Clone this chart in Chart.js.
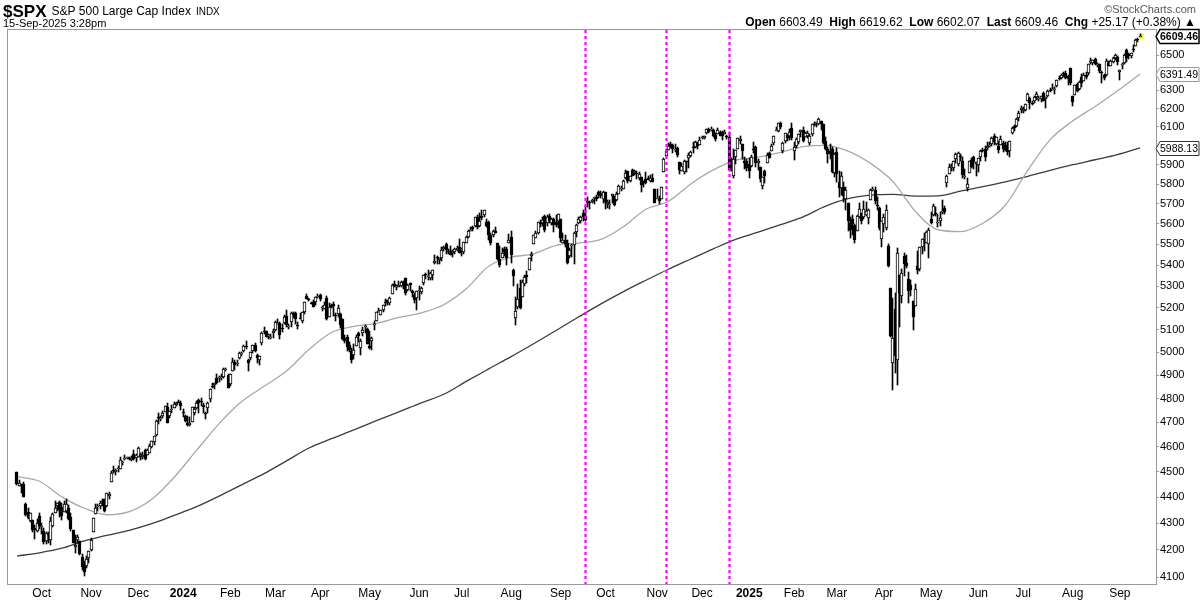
<!DOCTYPE html>
<html><head><meta charset="utf-8">
<script src="https://cdn.jsdelivr.net/npm/chart.js@4.4.1/dist/chart.umd.min.js"></script>
<style>html,body{margin:0;padding:0;background:#fff;overflow:hidden}canvas{display:block}</style>
</head><body>
<canvas id="c" width="1200" height="600"></canvas>
<script>
// ---- Daily OHLC, Sep 15 2023 .. Sep 15 2025 (index 0 = Sep 15 2023) ----
const opens = [
// Sep 2023
4497,4445,4446,4453,4374,4342,4310,4312,4282,4270,4329,
// Oct
4284,4270,4234,4260,4235,4290,4339,4366,4380,4360,4342,4345,4358,4322,4274,4210,4236,4232,4175,4152,4140,4171,
// Nov
4201,4268,4334,4364,4366,4384,4392,4365,4406,4458,4505,4497,4509,4511,4538,4553,4555,4555,4546,4572,4555,
// Dec
4560,4564,4557,4587,4568,4576,4601,4618,4647,4721,4714,4725,4743,4764,4725,4754,4759,4773,4786,4782,
// Jan 2024
4745,4726,4698,4690,4703,4741,4759,4792,4791,4772,4740,4760,4797,4853,4856,4888,4886,4888,4892,4925,4900,
// Feb
4862,4917,4957,4951,4973,4996,5005,5026,4967,4976,5004,5031,4989,4964,5039,5094,5093,5074,5068,5085,
// Mar
5098,5131,5130,5109,5132,5164,5112,5134,5174,5176,5124,5154,5139,5181,5254,5243,5220,5229,5226,5248,
// Apr
5258,5204,5195,5245,5158,5212,5218,5167,5173,5171,5150,5064,5068,5032,5005,4988,5029,5084,5020,5085,5115,5104,
// May
5029,5050,5123,5142,5187,5168,5189,5225,5234,5221,5264,5310,5303,5298,5299,5319,5340,5282,5315,5278,5260,5244,
// Jun
5283,5275,5314,5357,5344,5341,5354,5410,5441,5424,5432,5477,5499,5467,5460,5460,5461,5473,5488,
// Jul
5471,5461,5507,5537,5572,5585,5591,5635,5590,5638,5644,5610,5608,5544,5544,5566,5505,5429,5434,5477,5478,5505,
// Aug
5537,5377,5152,5206,5293,5252,5312,5351,5376,5443,5500,5531,5557,5602,5604,5637,5602,5640,5602,5624,5607,5612,
// Sep
5624,5507,5520,5507,5443,5491,5496,5558,5603,5615,5655,5641,5702,5709,5711,5727,5733,5762,5755,5726,
// Oct
5758,5698,5698,5737,5737,5720,5752,5777,5775,5830,5866,5816,5875,5859,5857,5833,5835,5814,5826,5830,5814,5833,5776,
// Nov
5723,5725,5722,5864,5947,5977,6008,6003,5985,5990,5912,5869,5860,5918,5935,5945,5992,5992,6015,6004,
// Dec
6040,6042,6069,6089,6082,6083,6057,6060,6075,6064,6063,6052,6048,5913,5843,5941,5984,6025,6007,5920,5920,
// Jan 2025
5904,5891,5982,5993,5910,5890,5788,5865,5907,5963,5973,6015,6081,6076,6121,5970,6026,6057,6054,6096,
// Feb
5970,5998,6020,6072,6083,6047,6049,6012,6060,6116,6121,6117,6134,6114,6026,5983,5971,5981,5857,
// Mar
5968,5811,5781,5786,5726,5705,5603,5624,5594,5563,5635,5654,5632,5646,5630,5718,5775,5772,5696,5679,5527,
// Apr
5597,5580,5492,5292,4953,5194,4966,5353,5255,5442,5411,5335,5305,5232,5208,5395,5381,5489,5529,5508,5499,
// May
5625,5645,5656,5605,5613,5663,5679,5808,5854,5884,5883,5929,5903,5945,5921,5841,5781,5855,5926,5940,5903,
// Jun
5897,5938,5979,5985,5987,6005,6009,6050,6010,5997,6005,6012,5985,6004,5970,6069,6104,6107,6151,6193,
// Jul
6187,6193,6244,6260,6233,6244,6264,6255,6255,6288,6251,6269,6305,6304,6307,6326,6368,6370,6397,6398,6378,6428,
// Aug
6270,6272,6335,6309,6374,6352,6389,6398,6461,6452,6478,6446,6447,6404,6387,6384,6457,6440,6458,6485,6491,
// Sep
6401,6448,6457,6529,6503,6497,6536,6552,6590,6603.49
];
const highs = [
4497,4467,4452,4461,4376,4357,4338,4313,4292,4317,4337,
4300,4282,4268,4268,4324,4337,4385,4378,4386,4377,4383,4393,4368,4339,4276,4256,4255,4233,4183,4157,4178,4195,
4245,4320,4374,4372,4386,4392,4393,4416,4421,4503,4521,4511,4521,4557,4542,4568,4560,4560,4562,4588,4570,
4599,4574,4578,4590,4590,4610,4623,4644,4710,4739,4726,4749,4769,4779,4749,4773,4784,4785,4793,4789,
4755,4730,4727,4721,4764,4766,4791,4798,4803,4782,4744,4785,4842,4868,4866,4903,4898,4906,4929,4932,4907,
4907,4975,4964,4964,5000,5000,5031,5048,4970,5003,5033,5039,4994,4984,5089,5111,5097,5082,5081,5105,
5140,5149,5134,5127,5165,5190,5125,5180,5180,5180,5137,5175,5180,5226,5262,5246,5229,5235,5249,5264,
5263,5208,5228,5256,5222,5219,5225,5178,5212,5176,5151,5079,5077,5046,5019,5038,5076,5089,5058,5114,5123,5110,
5096,5070,5139,5181,5200,5192,5215,5239,5238,5250,5311,5325,5305,5325,5324,5324,5341,5311,5316,5282,5270,5280,
5303,5297,5354,5362,5375,5365,5375,5447,5442,5432,5488,5490,5505,5478,5490,5473,5484,5490,5524,
5480,5510,5539,5570,5583,5590,5635,5642,5655,5670,5667,5622,5614,5557,5570,5586,5508,5492,5480,5487,5489,5551,
5566,5383,5250,5312,5330,5328,5351,5371,5436,5463,5546,5564,5608,5620,5632,5643,5642,5651,5631,5628,5646,5651,
5626,5553,5546,5522,5484,5502,5560,5600,5636,5637,5670,5690,5733,5716,5725,5735,5742,5767,5765,5765,
5758,5720,5718,5752,5739,5758,5797,5790,5822,5871,5870,5843,5878,5872,5866,5863,5838,5817,5862,5843,5848,5851,5776,
5773,5741,5784,5936,5983,6013,6018,6010,6008,5993,5915,5909,5923,5920,5963,5974,6020,6026,6021,6045,
6053,6052,6089,6093,6099,6089,6065,6092,6080,6079,6086,6057,6071,5936,5982,5979,6040,6049,6008,5941,5929,
5935,5949,6022,6000,5928,5890,5837,5871,5960,5965,6009,6051,6100,6119,6128,6018,6070,6062,6087,6120,
6022,6042,6062,6084,6101,6073,6076,6063,6116,6127,6129,6147,6134,6115,6044,5992,6009,5994,5959,
5986,5865,5860,5812,5783,5706,5636,5642,5598,5645,5703,5654,5715,5711,5672,5775,5786,5783,5732,5685,5615,
5651,5695,5500,5293,5247,5268,5481,5353,5381,5460,5450,5367,5329,5233,5310,5469,5489,5528,5554,5565,5581,
5659,5700,5683,5649,5659,5721,5691,5845,5906,5906,5917,5959,5968,5954,5938,5879,5830,5922,5935,5944,5915,
5937,5978,5990,5999,6017,6022,6044,6060,6045,6026,6051,6024,6018,6018,6025,6101,6108,6146,6187,6215,
6211,6227,6285,6263,6243,6269,6290,6267,6271,6293,6266,6302,6316,6336,6317,6360,6381,6390,6401,6410,6389,6428,
6271,6330,6341,6350,6390,6396,6402,6446,6481,6474,6481,6457,6448,6407,6394,6477,6467,6471,6486,6508,6493,
6417,6453,6503,6533,6509,6513,6555,6592,6600,6619.62
];
const lows = [
4448,4442,4416,4402,4329,4316,4303,4265,4239,4265,4278,
4260,4220,4220,4225,4219,4284,4339,4346,4325,4311,4342,4338,4311,4270,4224,4190,4224,4181,4127,4104,4132,4153,
4197,4268,4334,4347,4355,4364,4344,4360,4394,4458,4495,4488,4500,4511,4526,4545,4552,4546,4541,4546,4538,
4557,4547,4551,4546,4566,4574,4594,4607,4644,4694,4705,4720,4743,4698,4717,4739,4758,4769,4780,4751,
4722,4700,4687,4683,4700,4730,4757,4740,4769,4740,4715,4740,4785,4844,4842,4860,4870,4881,4887,4917,4845,
4853,4917,4921,4941,4970,4985,4999,5016,4920,4966,4998,4999,4955,4946,5034,5081,5068,5057,5058,5062,
5094,5127,5057,5091,5128,5114,5104,5112,5153,5126,5104,5148,5132,5171,5241,5230,5216,5203,5213,5246,
5230,5185,5194,5146,5157,5197,5161,5138,5156,5107,5054,5039,5007,4999,4954,4969,5027,5047,4990,5073,5088,5035,
5013,5008,5101,5142,5181,5166,5180,5207,5212,5212,5263,5297,5283,5298,5297,5286,5257,5278,5280,5250,5222,5192,
5234,5265,5306,5335,5331,5331,5327,5404,5404,5403,5420,5469,5455,5452,5447,5440,5451,5469,5458,
5445,5452,5507,5531,5563,5565,5587,5576,5583,5620,5632,5584,5522,5497,5537,5553,5426,5390,5433,5445,5401,5505,
5410,5302,5120,5194,5195,5249,5301,5317,5376,5420,5500,5530,5550,5585,5591,5561,5590,5602,5593,5561,5585,5582,
5509,5505,5485,5403,5434,5441,5406,5535,5601,5605,5615,5615,5686,5674,5704,5697,5714,5730,5730,5704,
5675,5680,5675,5703,5690,5715,5752,5763,5775,5824,5806,5810,5840,5849,5825,5822,5762,5784,5800,5822,5810,5811,5703,
5723,5697,5722,5864,5947,5976,5986,5960,5965,5943,5854,5865,5854,5860,5885,5943,5963,5986,5985,6003,
6035,6034,6062,6069,6079,6045,6023,6060,6050,6032,6060,6035,5867,5866,5832,5903,5983,6007,5932,5879,5869,
5829,5889,5960,5890,5874,5809,5773,5804,5907,5936,5972,6006,6076,6075,6089,5962,6012,6024,6028,6030,
5923,5990,6007,6046,6020,6044,6042,6003,6051,6107,6100,6111,6084,6009,5977,5908,5932,5858,5837,
5810,5733,5742,5711,5667,5565,5529,5547,5505,5563,5631,5597,5622,5640,5598,5718,5764,5700,5670,5572,5489,
5558,5572,5391,5069,4835,4910,4857,5115,5220,5349,5387,5220,5255,5101,5208,5356,5371,5455,5468,5505,5434,
5597,5637,5640,5585,5589,5651,5650,5787,5854,5869,5865,5909,5896,5919,5830,5825,5767,5855,5884,5876,5843,
5861,5921,5967,5921,5978,5994,6000,6006,6004,5963,6005,5968,5971,5953,5943,6061,6078,6101,6133,6175,
6178,6188,6244,6200,6217,6233,6249,6242,6238,6243,6201,6264,6289,6303,6282,6317,6360,6365,6376,6361,6332,6330,
6212,6272,6289,6301,6321,6352,6362,6385,6449,6441,6444,6434,6399,6343,6357,6380,6438,6436,6452,6471,6444,
6360,6419,6447,6460,6478,6482,6516,6552,6577,6602.07
];
const closes = [
4450,4454,4444,4402,4330,4320,4337,4274,4275,4300,4288,
4288,4229,4263,4258,4308,4336,4358,4377,4349,4328,4373,4373,4314,4278,4224,4217,4248,4186,4137,4117,4167,4194,
4237,4318,4358,4365,4378,4383,4347,4415,4411,4496,4502,4508,4514,4547,4538,4556,4559,4550,4554,4551,4568,
4595,4569,4567,4549,4585,4604,4622,4644,4707,4719,4719,4741,4768,4698,4746,4755,4775,4782,4783,4770,
4743,4705,4689,4697,4764,4757,4783,4780,4784,4766,4739,4781,4840,4851,4865,4868,4894,4891,4928,4925,4846,
4906,4959,4943,4954,4995,4998,5027,5022,4953,5001,5030,5006,4976,4982,5087,5089,5070,5078,5070,5096,
5137,5131,5079,5105,5157,5124,5118,5175,5165,5150,5117,5149,5179,5225,5241,5234,5218,5204,5248,5254,
5243,5205,5211,5147,5204,5202,5209,5161,5199,5123,5061,5051,5022,5011,4967,5010,5070,5072,5048,5100,5116,5036,
5018,5064,5128,5181,5187,5188,5214,5223,5221,5247,5308,5297,5303,5308,5321,5307,5268,5305,5306,5267,5236,5278,
5283,5291,5354,5352,5347,5361,5375,5421,5433,5432,5473,5487,5473,5465,5448,5469,5478,5483,5460,
5475,5509,5537,5567,5572,5577,5633,5585,5615,5631,5667,5588,5544,5505,5564,5555,5427,5399,5459,5464,5436,5522,
5446,5346,5186,5240,5199,5319,5344,5344,5435,5455,5543,5554,5608,5597,5620,5571,5635,5616,5625,5592,5592,5648,
5529,5520,5503,5408,5471,5496,5554,5596,5626,5634,5634,5618,5714,5703,5719,5732,5722,5745,5738,5762,
5709,5710,5700,5751,5696,5751,5792,5780,5815,5859,5815,5843,5841,5865,5853,5851,5797,5809,5808,5823,5832,5813,5705,
5729,5712,5783,5929,5973,5996,6001,5984,5985,5949,5871,5894,5917,5917,5949,5969,5987,6021,5999,6032,
6047,6050,6087,6075,6090,6053,6034,6085,6051,6051,6074,6050,5872,5867,5931,5975,6040,6038,5971,5907,5882,
5869,5942,5975,5909,5918,5827,5836,5843,5950,5937,5997,6049,6086,6119,6101,6012,6068,6039,6071,6041,
5994,6038,6061,6084,6026,6066,6068,6052,6115,6115,6129,6144,6117,6013,5983,5955,5956,5861,5955,
5850,5778,5843,5739,5770,5615,5572,5599,5522,5639,5675,5615,5675,5663,5668,5768,5777,5712,5693,5581,5612,
5633,5671,5397,5074,5062,4982,5457,5268,5363,5406,5396,5276,5283,5158,5288,5376,5485,5525,5529,5561,5569,
5604,5687,5650,5607,5631,5664,5660,5844,5886,5892,5917,5958,5964,5940,5845,5842,5803,5922,5889,5912,5912,
5936,5970,5971,5939,6000,6006,6039,6022,6045,5977,6033,5982,5981,5967,6025,6092,6092,6141,6173,6205,
6198,6227,6279,6230,6226,6263,6280,6260,6269,6244,6264,6297,6297,6306,6309,6359,6363,6389,6390,6371,6362,6339,
6238,6330,6299,6345,6340,6389,6374,6446,6466,6469,6450,6449,6411,6396,6370,6467,6439,6466,6481,6502,6460,
6416,6448,6502,6482,6495,6512,6532,6587,6584,6609.46
];

// ---- Moving averages (every 10th trading day) ----
const maDays = [0,10,20,30,40,50,60,70,80,90,100,110,120,130,140,150,160,170,180,190,200,210,220,230,240,250,260,270,280,290,300,310,320,330,340,350,360,370,380,390,400,410,420,430,440,450,460,470,480,490,500];
const ma50 = [4480,4462,4401,4357,4332,4344,4392,4478,4586,4695,4787,4852,4918,5012,5088,5116,5129,5156,5177,5214,5288,5394,5437,5454,5495,5506,5524,5586,5673,5712,5801,5873,5924,5940,5965,5995,6002,5971,5907,5813,5662,5571,5562,5603,5693,5871,6032,6132,6211,6298,6391.49];
const ma200 = [4177,4189,4206,4233,4254,4273,4298,4330,4363,4404,4448,4492,4543,4595,4633,4669,4707,4744,4782,4818,4873,4927,4981,5038,5097,5158,5218,5275,5328,5380,5429,5478,5524,5559,5596,5635,5688,5726,5744,5748,5739,5740,5764,5787,5812,5840,5871,5900,5926,5953,5988.13];

// ---- Axis ticks / markers ----
const monthStarts = [11,33,54,74,95,115,135,157,179,198,220,242,262,285,305,326,346,365,386,407,428,448,470,491];
const monthLabels = ['Oct','Nov','Dec','2024','Feb','Mar','Apr','May','Jun','Jul','Aug','Sep','Oct','Nov','Dec','2025','Feb','Mar','Apr','May','Jun','Jul','Aug','Sep'];
const priceTicks = [4100,4200,4300,4400,4500,4600,4700,4800,4900,5000,5100,5200,5300,5400,5500,5600,5700,5800,5900,6100,6200,6300,6500];
const fedDays = [253,289,317];

// ---- Header text ----
const symbol = '$SPX';
const titleText = 'S&P 500 Large Cap Index';
const exchText = 'INDX';
const stampText = '15-Sep-2025 3:28pm';
const creditText = '\u00A9StockCharts.com';
const quoteLabels = ['Open','High','Low','Last','Chg'];
const quoteValues = ['6603.49','6619.62','6602.07','6609.46','+25.17 (+0.38%)'];

const FONT = '"Liberation Sans", Arial, sans-serif';
const NARROW = '"Liberation Sans Narrow", "Arial Narrow", "Liberation Sans", sans-serif';

const n = closes.length, last = n - 1;
const lenOK = opens.length === n && highs.length === n && lows.length === n && ma50.length === maDays.length && ma200.length === maDays.length;

const wickData = highs.map((h, i) => ({x: i, y: [lows[i], h]}));
const bodyData = opens.map((o, i) => ({x: i, y: [Math.min(o, closes[i]), Math.max(o, closes[i])]}));
const bodyFill = opens.map((o, i) => i === last ? '#ffff33' : (closes[i] >= o ? '#ffffff' : '#000000'));

// snap candle elements (positioned by the library's scales) to whole pixels for crisp bars
const snapPlugin = {
  id: 'snap',
  beforeDatasetsDraw(chart) {
    [0, 1].forEach(di => {
      const meta = chart.getDatasetMeta(di);
      meta.data.forEach(el => {
        el.x = Math.round(el.x - 0.5) + 0.5;
        let top = Math.round(Math.min(el.y, el.base)), bot = Math.round(Math.max(el.y, el.base));
        if (bot - top < 1) bot = top + 1;
        el.y = top; el.base = bot;
      });
    });
    // yellow highlight behind the latest candle
    const xs = chart.scales.x, ys = chart.scales.y, c = chart.ctx;
    const lx = Math.round(xs.getPixelForValue(last) - 0.5);
    const top = Math.round(ys.getPixelForValue(highs[last])) - 1;
    const bot = Math.round(ys.getPixelForValue(lows[last])) + 2;
    c.save(); c.fillStyle = '#ffff33'; c.fillRect(lx, top, 4, Math.max(5, bot - top)); c.restore();
  }
};

const framePlugin = {
  id: 'frame',
  beforeDatasetsDraw(chart) {
    const a = chart.chartArea, c = chart.ctx;
    c.save(); c.strokeStyle = '#9a9a9a'; c.lineWidth = 1;
    c.strokeRect(Math.round(a.left) + 0.5, Math.round(a.top) + 0.5, Math.round(a.right - a.left), Math.round(a.bottom - a.top));
    c.restore();
  },
  afterDatasetsDraw(chart) {
    const a = chart.chartArea, c = chart.ctx, xs = chart.scales.x;
    c.save(); c.strokeStyle = '#ff00ff'; c.lineWidth = 2.2; c.setLineDash([3, 3]);
    fedDays.forEach(d => {
      const x = Math.round(xs.getPixelForValue(d)) + 0.5;
      c.beginPath(); c.moveTo(x, a.top + 1); c.lineTo(x, a.bottom); c.stroke();
    });
    c.restore();
  },
  afterDraw(chart) {
    const c = chart.ctx, ys = chart.scales.y;
    c.save();
    // header
    c.fillStyle = '#000'; c.textBaseline = 'alphabetic'; c.textAlign = 'left';
    c.font = 'bold 17px ' + NARROW; c.fillText(symbol, 3, 17);
    let x = 3 + c.measureText(symbol).width + 5;
    c.font = '12px ' + NARROW; c.fillText(titleText, x, 15);
    x += c.measureText(titleText).width + 5;
    c.font = '10px ' + NARROW; c.fillText(exchText, x, 15);
    c.font = '11px ' + NARROW; c.fillText(stampText, 3, 27);
    c.textAlign = 'right'; c.fillStyle = '#555'; c.font = '11px ' + NARROW;
    c.fillText(creditText, 1196, 13);
    // quote line
    const parts = [];
    quoteLabels.forEach((l, i) => { parts.push([l, true]); parts.push([' ' + quoteValues[i] + '  ', false]); });
    parts[parts.length - 1][0] = ' ' + quoteValues[quoteValues.length - 1] + ' ';
    parts.push(['\u25B2', false]);
    let total = 0;
    parts.forEach(p => { c.font = (p[1] ? 'bold ' : '') + '12px ' + NARROW; total += c.measureText(p[0]).width; });
    let qx = 1196 - total; c.textAlign = 'left'; c.fillStyle = '#000';
    parts.forEach(p => { c.font = (p[1] ? 'bold ' : '') + '12px ' + NARROW; c.fillText(p[0], qx, 26); qx += c.measureText(p[0]).width; });
    // value boxes on the right axis
    const boxes = [
      {v: closes[last], bold: true, color: '#000', lw: 1.5},
      {v: ma50[ma50.length - 1], bold: false, color: '#9a9a9a', lw: 1},
      {v: ma200[ma200.length - 1], bold: false, color: '#333', lw: 1}
    ];
    const x0 = chart.chartArea.right;
    boxes.forEach(b => {
      const y = Math.round(ys.getPixelForValue(b.v)) + 0.5;
      c.beginPath(); c.moveTo(x0, y); c.lineTo(x0 + 4, y - 7); c.lineTo(1199, y - 7); c.lineTo(1199, y + 7); c.lineTo(x0 + 4, y + 7); c.closePath();
      c.fillStyle = '#fff'; c.fill(); c.strokeStyle = b.color; c.lineWidth = b.lw; c.stroke();
      c.fillStyle = '#000'; c.font = (b.bold ? 'bold ' : '') + '11px ' + FONT; c.textBaseline = 'middle';
      c.fillText(b.v.toFixed(2), x0 + 4, y + 0.5, 38);
    });
    if (!lenOK) { c.fillStyle = 'red'; c.font = '20px sans-serif'; c.fillText('LENGTH MISMATCH', 400, 300); }
    c.restore();
  }
};

new Chart(document.getElementById('c'), {
  type: 'bar',
  data: {
    datasets: [
      {type: 'bar', data: bodyData, backgroundColor: bodyFill, borderColor: '#000', borderWidth: 1, borderSkipped: false, barThickness: 3, grouped: false, order: 0},
      {type: 'bar', data: wickData, backgroundColor: '#000', borderWidth: 0, barThickness: 1, grouped: false, order: 1},
      {type: 'line', data: maDays.map((d, k) => ({x: d, y: ma50[k]})), borderColor: '#a8a8a8', borderWidth: 1.3, pointRadius: 0, cubicInterpolationMode: 'monotone', order: 2},
      {type: 'line', data: maDays.map((d, k) => ({x: d, y: ma200[k]})), borderColor: '#3c3c3c', borderWidth: 1.3, pointRadius: 0, cubicInterpolationMode: 'monotone', order: 3}
    ]
  },
  options: {
    responsive: false, animation: false, devicePixelRatio: 1,
    layout: {padding: {left: 7, top: 29, right: 0, bottom: 0}},
    plugins: {legend: {display: false}, tooltip: {enabled: false}},
    scales: {
      x: {
        type: 'linear', min: -4.45, max: 507.1, offset: false,
        grid: {display: false, drawTicks: false}, border: {display: false},
        afterBuildTicks: s => { s.ticks = monthStarts.map(v => ({value: v})); },
        afterFit: s => { s.height = 16; },
        ticks: {
          autoSkip: false, maxRotation: 0, padding: 2, color: '#000',
          font: ctx => {
            const k = ctx.tick ? monthStarts.indexOf(ctx.tick.value) : -1;
            const yr = k >= 0 && /^\d{4}$/.test(monthLabels[k]);
            return {family: NARROW, size: 12, weight: yr ? 'bold' : 'normal'};
          },
          callback: v => { const k = monthStarts.indexOf(v); return k >= 0 ? monthLabels[k] : ''; }
        }
      },
      y: {
        type: 'logarithmic', position: 'right', min: 4075.2, max: 6650.9,
        grid: {drawOnChartArea: false, drawTicks: true, tickLength: 3, color: '#9a9a9a'},
        border: {display: false},
        afterBuildTicks: s => { s.ticks = priceTicks.map(v => ({value: v})); },
        afterFit: s => { s.width = 44; },
        ticks: {autoSkip: false, padding: 1, color: '#000', font: {family: FONT, size: 11}, callback: v => String(v)}
      }
    }
  },
  plugins: [snapPlugin, framePlugin]
});
</script>
</body></html>
